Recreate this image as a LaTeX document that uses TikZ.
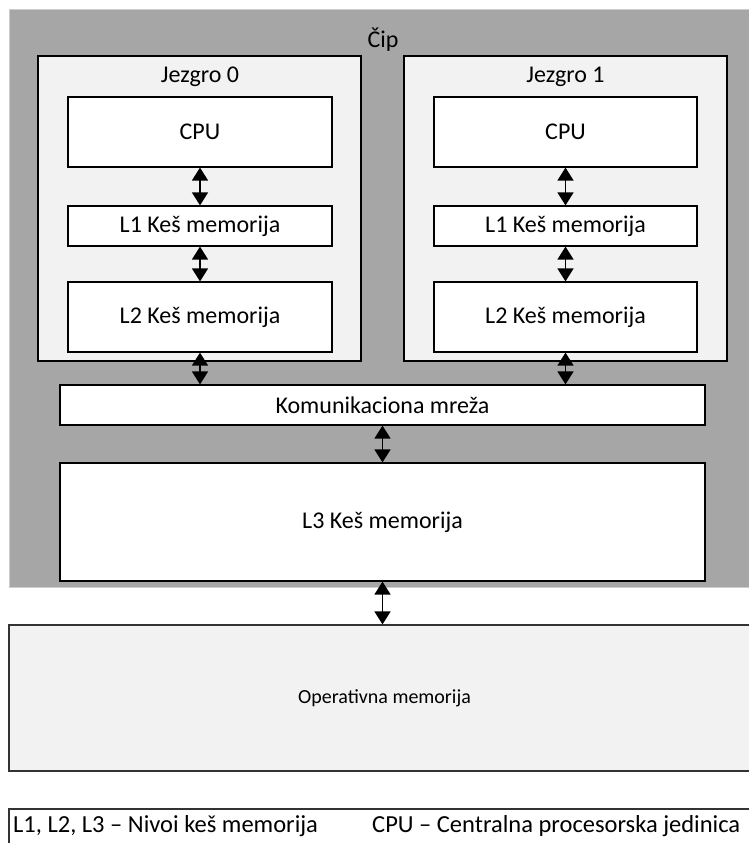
\documentclass[tikz,border=0pt]{standalone}
\usepackage{fontspec}
\setmainfont{Carlito}
\usetikzlibrary{arrows.meta}
\definecolor{chipgray}{RGB}{166,166,166}
\definecolor{coregray}{RGB}{242,242,242}
\definecolor{chipedge}{RGB}{205,205,205}
\tikzset{
  chipbox/.style={draw=chipedge, line width=1pt, fill=chipgray, inner sep=0pt},
  corebox/.style={draw=black, line width=1.2pt, fill=coregray, inner sep=0pt},
  unitbox/.style={draw=black, line width=1.2pt, fill=white, inner sep=0pt,
    font=\fontsize{24}{28}\selectfont},
  membox/.style={draw=black!80, line width=1.2pt, fill=coregray, inner sep=0pt,
    font=\fontsize{20}{24}\selectfont},
  legbox/.style={draw=black!80, line width=1.2pt, fill=white, inner sep=0pt},
  lbl/.style={inner sep=0pt, font=\fontsize{24}{28}\selectfont},
  legtxt/.style={inner sep=0pt, anchor=west, font=\fontsize{24.5}{28}\selectfont},
  biarrow/.style={line width=1.5pt,
    {Triangle[width=16pt,length=13pt]}-{Triangle[width=16pt,length=13pt]}}
}
\begin{document}
\begin{tikzpicture}[x=1pt,y=-1pt]
\useasboundingbox (0,0) rectangle (748,843);
% chip
\node[chipbox, minimum width=751pt, minimum height=577pt] (chip) at (384.5,298.5) {};
\node[lbl] (chiplbl) at (383,40) {Čip};
% cores
\node[corebox, minimum width=323pt, minimum height=305pt] (core0) at (199.5,208.5) {};
\node[corebox, minimum width=323pt, minimum height=305pt] (core1) at (565.5,208.5) {};
\node[lbl] (core0lbl) at (200,77) {Jezgro 0};
\node[lbl] (core1lbl) at (565.5,77) {Jezgro 1};
% core 0 units
\node[unitbox, minimum width=264pt, minimum height=70pt] (cpu0) at (200,132) {CPU};
\node[unitbox, minimum width=264pt, minimum height=40pt] (la0) at (200,226) {L1 Keš memorija};
\node[unitbox, minimum width=264pt, minimum height=70pt] (lb0) at (200,317) {L2 Keš memorija};
% core 1 units
\node[unitbox, minimum width=263pt, minimum height=70pt] (cpu1) at (565.5,132) {CPU};
\node[unitbox, minimum width=263pt, minimum height=40pt] (la1) at (565.5,226) {L1 Keš memorija};
\node[unitbox, minimum width=263pt, minimum height=70pt] (lb1) at (565.5,317) {L2 Keš memorija};
% network and L3
\node[unitbox, minimum width=645pt, minimum height=40pt] (net) at (382.5,405) {Komunikaciona mreža};
\node[unitbox, minimum width=645pt, minimum height=118pt] (lc) at (382.5,522) {L3 Keš memorija};
% main memory
\node[membox, minimum width=751pt, minimum height=146pt] (mem) at (384.5,698) {Operativna memorija};
% legend
\node[legbox, minimum width=751pt, minimum height=62pt] (leg) at (384.5,840) {};
\node[legtxt] (leg1) at (13,826) {L1, L2, L3 – Nivoi keš memorija};
\node[legtxt] (leg2) at (372,826) {CPU – Centralna procesorska jedinica};
% arrows
\draw[biarrow] (cpu0) -- (la0);
\draw[biarrow] (la0) -- (lb0);
\draw[biarrow] (cpu1) -- (la1);
\draw[biarrow] (la1) -- (lb1);
\draw[biarrow] (lb0.south) -- (lb0.south |- net.north);
\draw[biarrow] (lb1.south) -- (lb1.south |- net.north);
\draw[biarrow] (net) -- (lc);
\draw[biarrow] (lc) -- (lc.south |- mem.north);
\end{tikzpicture}
\end{document}
